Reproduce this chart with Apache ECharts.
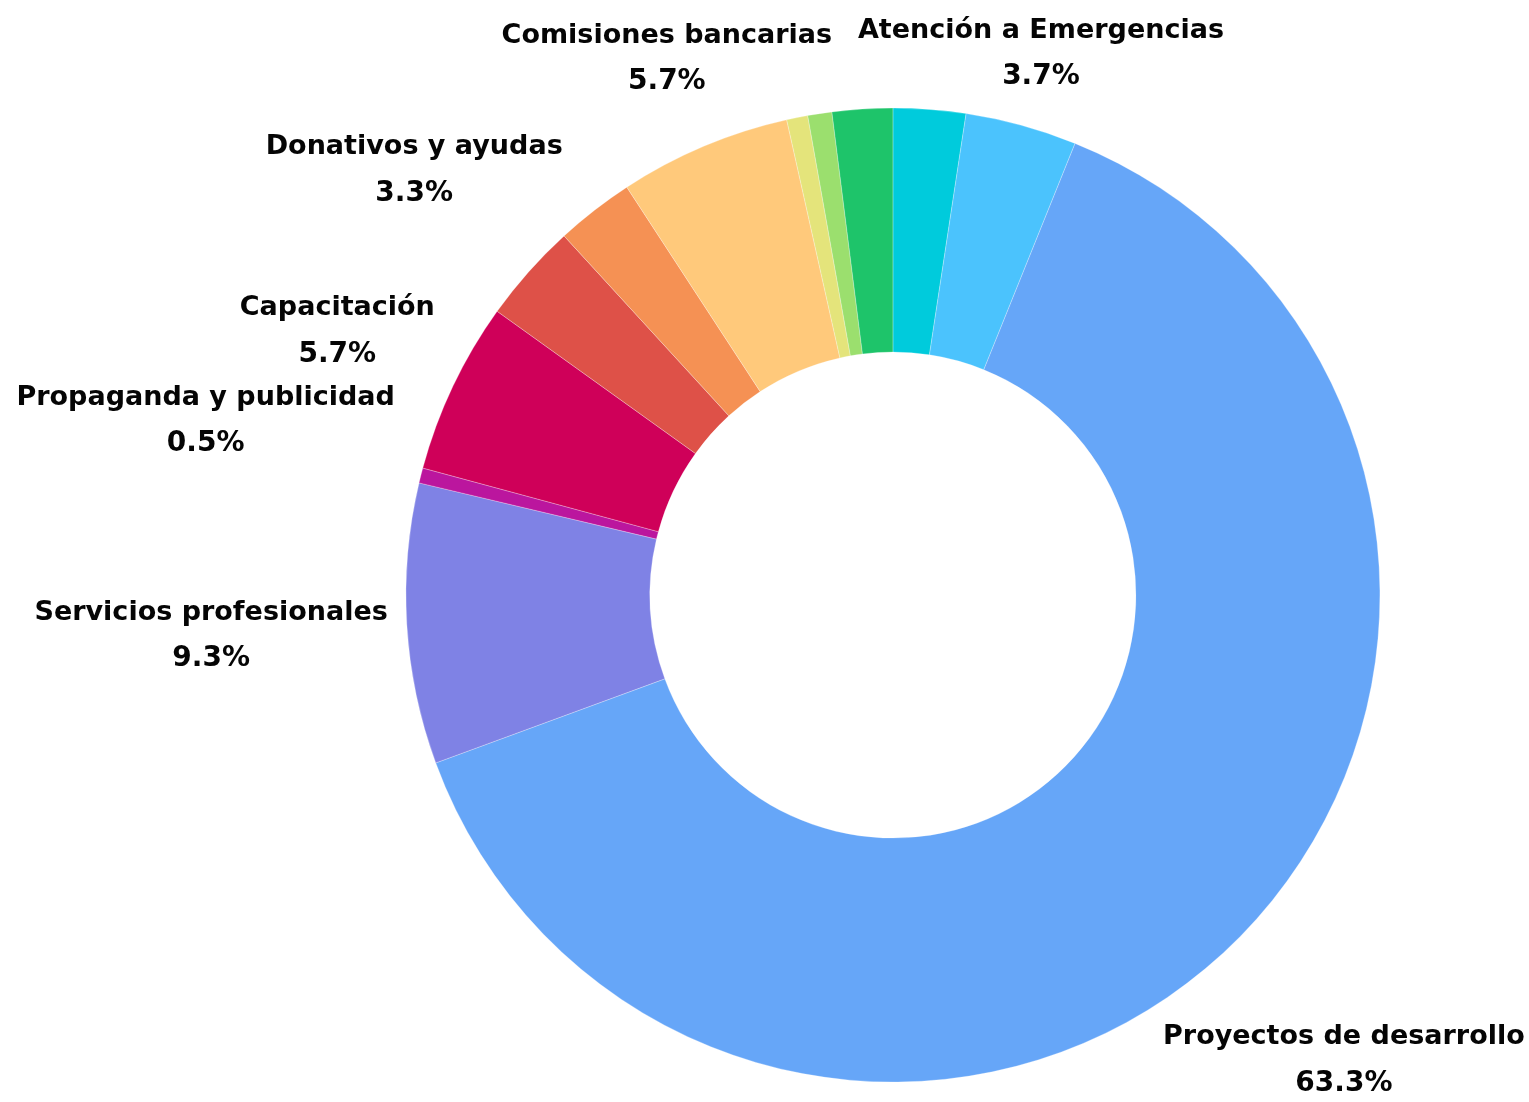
<!DOCTYPE html>
<html>
<head>
<meta charset="utf-8">
<script src="https://cdn.jsdelivr.net/npm/echarts@6/dist/echarts.min.js"></script>
<style>
html,body{margin:0;padding:0;background:#fff;}
#chart{width:1529px;height:1102px;}
</style>
</head>
<body>
<div id="chart"></div>
<script>
// Data (clockwise from 12 o'clock)
const categories = [
  'Otros 1',
  'Atención a Emergencias',
  'Proyectos de desarrollo',
  'Servicios profesionales',
  'Propaganda y publicidad',
  'Capacitación',
  'Donativos y ayudas',
  'Otros 2',
  'Comisiones bancarias',
  'Otros 3',
  'Otros 4',
  'Otros 5'
];
const values = [2.4, 3.7, 63.3, 9.3, 0.5, 5.7, 3.3, 2.6, 5.7, 0.7, 0.8, 2.0];
const showLabel = [false, true, true, true, true, true, true, false, true, false, false, false];

// Styles
const colors = ['#00CBDC','#4BC3FD','#66A6F8','#7F82E5','#BB169E','#CF0059','#DE5148','#F59154','#FFC97B','#E4E47B','#9BDF6E','#1EC46A'];
const labelDist = [0, 561, 648, 683, 709, 615, 640, 0, 582, 0, 0, 0];
const centerPct = [0.584, 0.54];

const chart = echarts.init(document.getElementById('chart'), null, {renderer: 'canvas'});
const total = values.reduce((a, b) => a + b, 0);
const midAngles = [];
let acc = 0;
values.forEach(v => { midAngles.push((acc + v / 2) / total * 2 * Math.PI); acc += v; });

const fontFamily = '"DejaVu Sans", sans-serif';

chart.setOption({
  animation: false,
  backgroundColor: '#ffffff',
  series: [{
    type: 'pie',
    center: [(centerPct[0] * 100) + '%', (centerPct[1] * 100) + '%'],
    radius: [243, 487],
    startAngle: 90,
    clockwise: true,
    avoidLabelOverlap: false,
    itemStyle: { borderColor: 'rgba(255,255,255,0.45)', borderWidth: 0.6 },
    label: {
      show: true,
      position: 'outside',
      formatter: p => '{n|' + p.name + '}\n{v|' + p.value.toFixed(1) + '%}',
      rich: {
        n: { fontFamily: fontFamily, fontWeight: 'bold', fontSize: 27, color: '#050505', align: 'center', lineHeight: 46 },
        v: { fontFamily: fontFamily, fontWeight: 'bold', fontSize: 28, color: '#050505', align: 'center', lineHeight: 46 }
      }
    },
    labelLine: { show: false },
    labelLayout: function (params) {
      const i = params.dataIndex;
      const W = chart.getWidth(), H = chart.getHeight();
      const cx = centerPct[0] * W, cy = centerPct[1] * H;
      const a = midAngles[i];
      const d = labelDist[i];
      return {
        x: cx + Math.sin(a) * d,
        y: cy - Math.cos(a) * d,
        align: 'center',
        verticalAlign: 'middle'
      };
    },
    data: categories.map((c, i) => ({
      name: c,
      value: values[i],
      itemStyle: { color: colors[i] },
      label: { show: showLabel[i] }
    }))
  }]
});
</script>
</body>
</html>
